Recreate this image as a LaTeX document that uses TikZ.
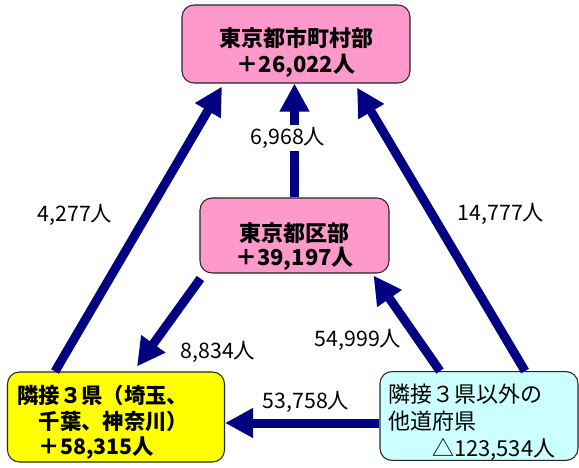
\documentclass[tikz,border=0pt]{standalone}
\usepackage{fontspec}
\setmainfont{Noto Sans CJK JP}
\usetikzlibrary{arrows.meta,calc}
\definecolor{flownavy}{HTML}{000080}
\definecolor{wardpink}{HTML}{FF99CC}
\definecolor{nearyellow}{HTML}{FFFF00}
\definecolor{farcyan}{HTML}{CCFFFF}

\tikzstyle{area}=[draw=black!85,line width=0.8pt,rounded corners=9pt,inner ysep=0pt]
\tikzstyle{tokyo}=[area,fill=wardpink,align=center,inner xsep=0pt,text depth=2pt,font=\bfseries\fontsize{16.5}{19.5}\selectfont]
\tikzstyle{near}=[area,fill=nearyellow,align=left,inner xsep=7.5pt,text width=147.75pt,text height=22pt,font=\bfseries\fontsize{16}{19}\selectfont]
\tikzstyle{far}=[area,fill=farcyan,align=left,inner xsep=6pt,text width=136.5pt,text height=23.5pt,font=\fontsize{16.5}{20}\selectfont]
\tikzstyle{flow}=[draw,line width=6.75pt,flownavy,-{Triangle[length=21pt,width=21pt]}]
\tikzstyle{count}=[font=\fontsize{16}{18}\selectfont,inner sep=2pt]

\begin{document}
\begin{tikzpicture}[x=0.75pt,y=-0.75pt]
\useasboundingbox (0,0) rectangle (579,468);
% areas
\node[tokyo,minimum width=171pt,minimum height=58.5pt,text height=45pt] (top) at (296,44) {東京都市町村部\\＋26,022人};
\node[tokyo,minimum width=141.75pt,minimum height=56.25pt,text height=47.5pt,
      font=\bfseries\fontsize{16.5}{18}\selectfont] (mid) at (294.5,235.5) {東京都区部\\＋39,197人};
\node[near,minimum height=67.5pt] (yel) at (116,417) {隣接３県（埼玉、\\　千葉、神奈川）\\　＋58,315人};
\node[far,minimum height=63pt] (cyan) at (479,416) {隣接３県以外の\\他道府県\\　　△123,534人};

% flows
\path[flow] ($(yel.north)+(-61,0)$) -- ($(top.south)+(-74,3)$);
\path[flow] (mid.north) -- (mid.north |- top.south);
\path[flow] ($(cyan.north)+(46,0)$) -- ($(top.south)+(61,4)$);
\path[flow] ($(mid.south west)+(1,5)$) -- ($(yel.north)+(21,-5)$);
\path[flow] ($(cyan.north)+(-39,0)$) -- ($(mid.south east)+(-16,2)$);
\path[flow] ($(cyan.west)+(0,7)$) -- ($(yel.east)+(0,6)$);

% counts
\node[count,fill=white] (c6968) at (288,138) {6,968人};
\foreach \pos/\name/\persons in {{(75,215)/c4277/4,277}, {(501,214)/c14777/14,777},
                                 {(218,352)/c8834/8,834}, {(358,340)/c54999/54,999},
                                 {(306,402)/c53758/53,758}}{
  \node[count] (\name) at \pos {\persons 人};
}
\end{tikzpicture}
\end{document}
